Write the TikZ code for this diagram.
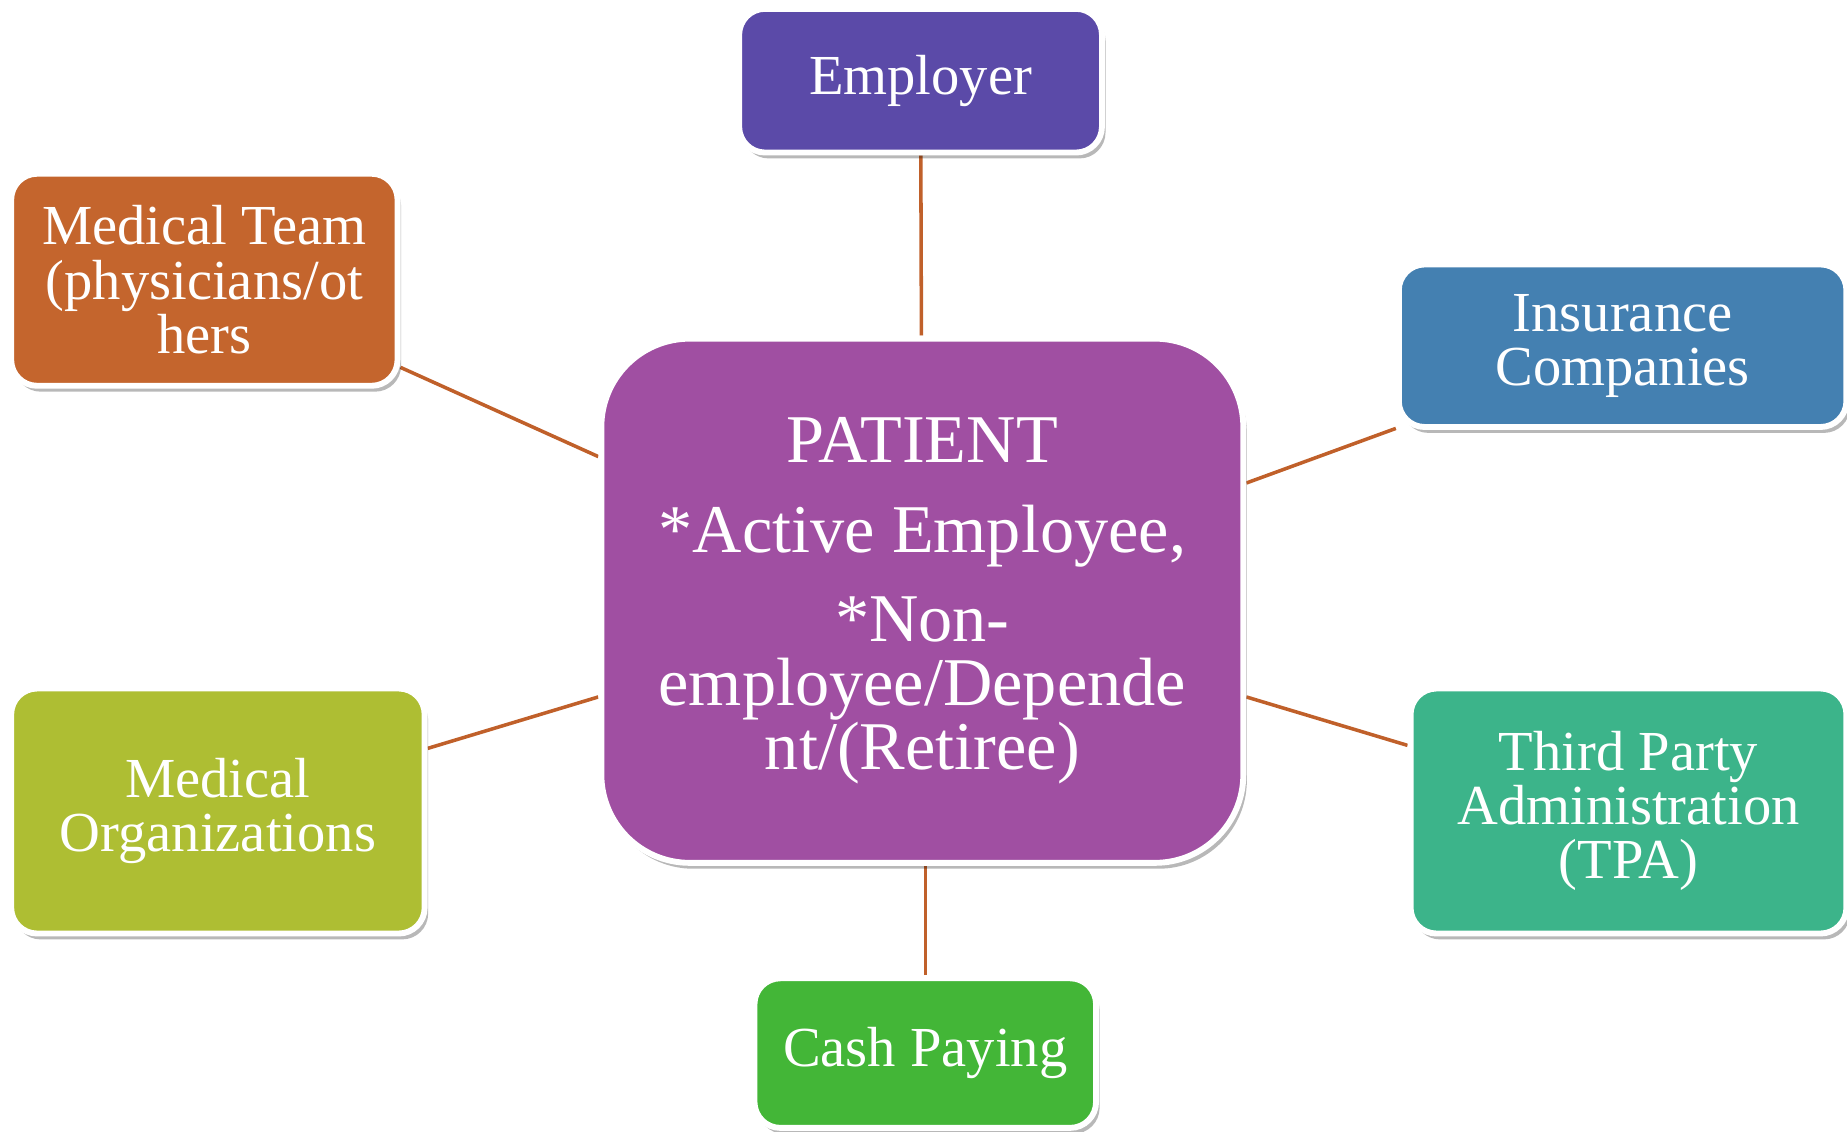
\documentclass[tikz,border=0pt]{standalone}
\usepackage{fontspec}
\setmainfont{Liberation Serif}
\usetikzlibrary{shadows,backgrounds}
\definecolor{cemp}{HTML}{5B4AA8}
\definecolor{cteam}{HTML}{C4652D}
\definecolor{cins}{HTML}{4480B1}
\definecolor{cpat}{HTML}{A04FA2}
\definecolor{corg}{HTML}{AEBE33}
\definecolor{ctpa}{HTML}{3CB48A}
\definecolor{ccash}{HTML}{43B637}
\definecolor{cline}{HTML}{C0602A}
\tikzset{
  box/.style={rectangle, rounded corners=22pt, draw=white, line width=5pt,
    inner sep=0pt, align=center, text=white,
    font=\fontsize{48}{46}\selectfont,
    drop shadow={shadow xshift=3pt, shadow yshift=-5pt, opacity=0.28, fill=black}},
  link/.style={draw=cline, line width=3pt}
}
\begin{document}
\begin{tikzpicture}[x=1pt,y=-1pt]
\useasboundingbox (0,0) rectangle (1568,961);
\node[box, fill=cemp, minimum width=308pt, minimum height=122pt] (emp) at (781.5,68.5) {Employer};
\node[box, fill=cteam, minimum width=328pt, minimum height=180pt] (team) at (173.5,237.5) {Medical Team\\(physicians/ot\\hers};
\node[box, fill=cins, minimum width=380pt, minimum height=138pt] (ins) at (1377.5,293.5) {Insurance\\Companies};
\node[box, fill=cpat, minimum width=545pt, minimum height=445pt, rounded corners=75pt,
  font=\fontsize{58}{54}\selectfont] (pat) at (783,510)
  {PATIENT\\[22pt]*Active Employee,\\[22pt]*Non-\\employee/Depende\\nt/(Retiree)};
\node[box, fill=corg, minimum width=351pt, minimum height=208pt] (org) at (185,688.5) {Medical\\Organizations};
\node[box, fill=ctpa, minimum width=370pt, minimum height=208pt] (tpa) at (1382.5,688.5) {Third Party\\Administration\\(TPA)};
\node[box, fill=ccash, minimum width=290pt, minimum height=127pt] (cash) at (785.5,894) {Cash Paying};
\begin{scope}[on background layer]
\draw[link] (emp) -- (pat);
\draw[link] (team) -- (pat);
\draw[link] (ins) -- (pat);
\draw[link] (org) -- (pat);
\draw[link] (tpa) -- (pat);
\draw[link] (cash.north) -- (cash.north |- pat.south);
\end{scope}
\end{tikzpicture}
\end{document}
